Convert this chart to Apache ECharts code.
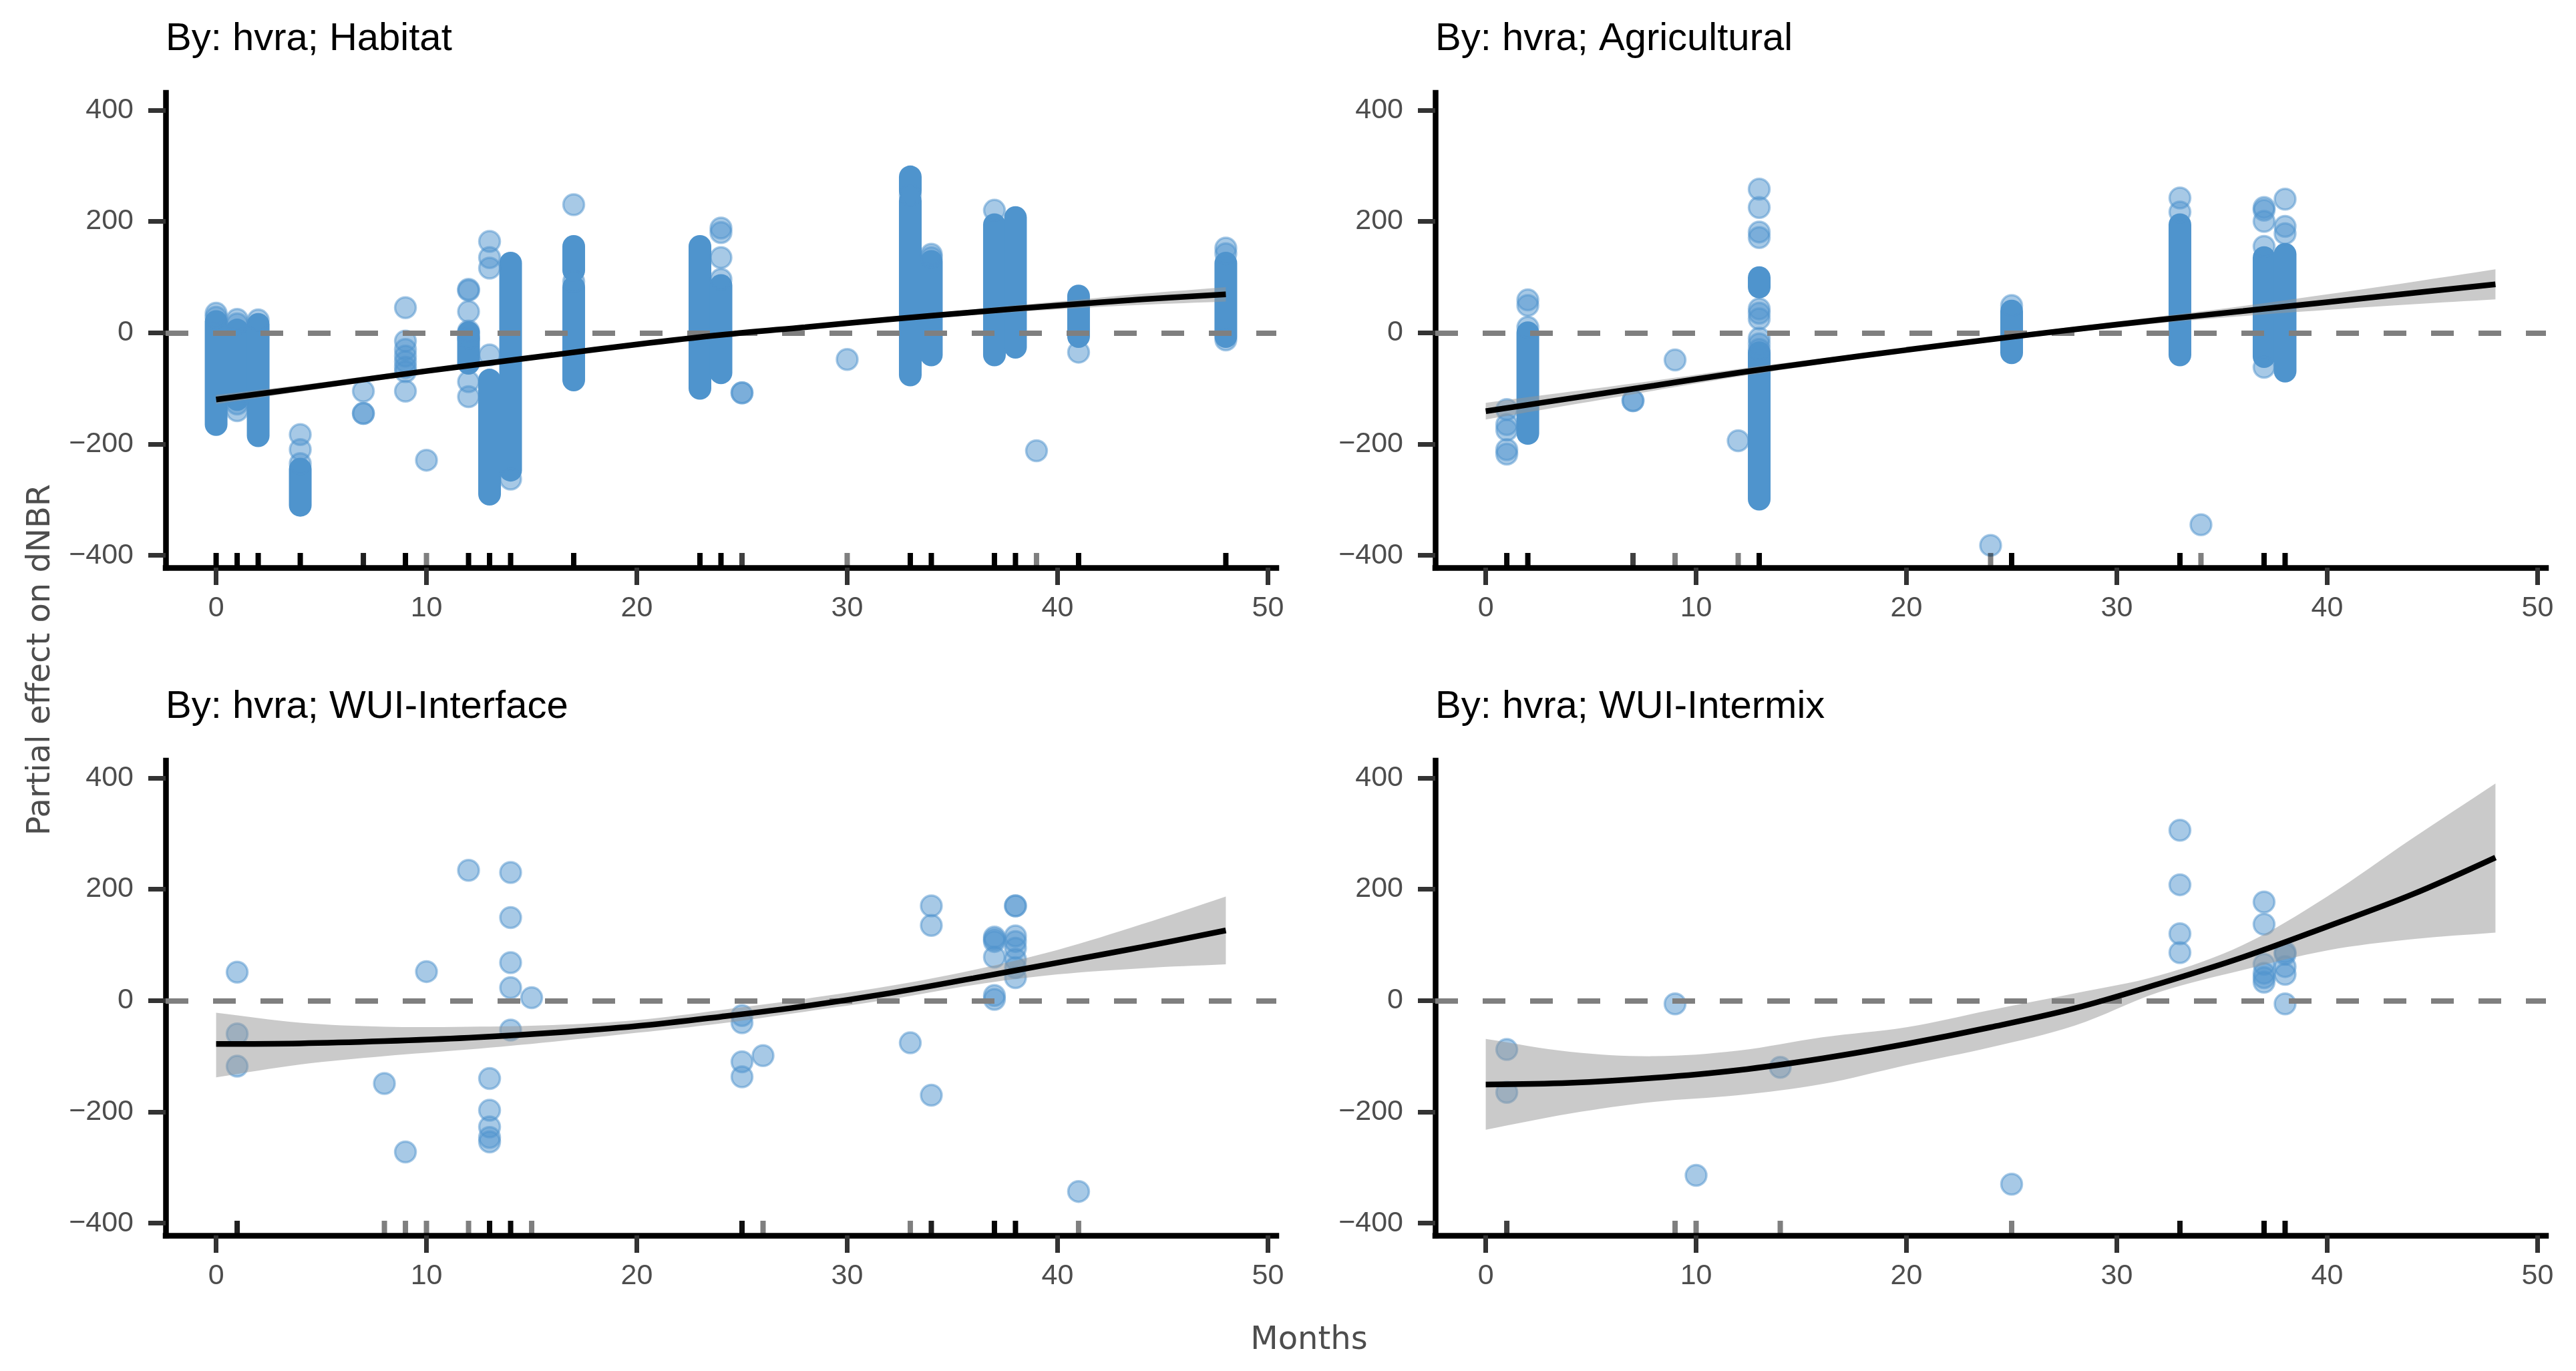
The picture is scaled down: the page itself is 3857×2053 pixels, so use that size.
<!DOCTYPE html>
<html>
<head>
<meta charset="utf-8">
<script src="https://cdn.jsdelivr.net/npm/echarts@6/dist/echarts.min.js"></script>
<style>
  html, body { margin: 0; padding: 0; background: #fff; }
  #chart { width: 3857px; height: 2053px; }
</style>
</head>
<body>
<div id="chart"></div>
<script>
// axis ticks
const xTicks = [0, 10, 20, 30, 40, 50];
const yTicks = [-400, -200, 0, 200, 400];
const fitMonths = [0, 4, 8, 12, 16, 20, 24, 28, 32, 36, 40, 44, 48];

const panelTitles = ['By: hvra; Habitat', 'By: hvra; Agricultural', 'By: hvra; WUI-Interface', 'By: hvra; WUI-Intermix'];

// Habitat: dense columns [month, low, high] and the single points around them
const habitatBands = [
  [0, -165, 20], [1, -120, 5], [2, -185, 15], [4, -310, -245], [12, -55, 0],
  [13, -290, -85], [14, -247, 125], [17, -85, 82], [17, 112, 155], [23, -100, 155],
  [24, -72, 85], [33, -76, 237], [33, 255, 280], [34, -40, 128], [37, -40, 194],
  [38, -26, 207], [41, -7, 66], [48, -7, 125]
];
const habitatPoints = [
  [0, 35], [0, 28], [1, 24], [1, 16], [1, -128], [1, -140], [2, 23],
  [4, -183], [4, -210], [4, -235], [7, -105], [7, -145], [7, -145],
  [9, 45], [9, -15], [9, -30], [9, -42], [9, -52], [9, -62], [9, -70], [9, -105],
  [10, -229], [12, 78], [12, 76], [12, 38], [12, 3], [12, -10], [12, -88], [12, -115],
  [13, 164], [13, 135], [13, 116], [13, -40], [14, -263], [17, 230], [17, 92],
  [24, 188], [24, 180], [24, 135], [24, 96], [25, -108], [25, -108], [30, -48],
  [33, 247], [34, 141], [34, 135], [37, 220], [39, -212], [41, -35],
  [48, 152], [48, 142], [48, -13]
];
const habitatFit = [-120, -100, -79, -59, -40, -21, -4, 10, 24, 37, 49, 60, 69];
const habitatLo = [-128, -106, -84, -63, -43, -24, -7, 7, 20, 32, 42, 50, 56];
const habitatHi = [-112, -94, -74, -55, -37, -18, -1, 13, 28, 42, 56, 70, 82];

// Agricultural
const agriBands = [
  [2, -181, 0], [13, 82, 99], [13, -299, -36], [25, -36, 39], [33, -40, 194],
  [37, -43, 135], [38, -69, 141]
];
const agriPoints = [
  [1, -138], [1, -165], [1, -175], [1, -210], [1, -218], [2, 59], [2, 49], [2, 10],
  [7, -122], [7, -122], [9, -49], [12, -194],
  [13, 258], [13, 225], [13, 181], [13, 171], [13, 43], [13, 35], [13, 25], [13, -10], [13, -20], [13, -30],
  [24, -382], [25, 49], [33, 242], [33, 217], [34, -345],
  [37, 225], [37, 220], [37, 200], [37, 155], [37, -62], [38, 240], [38, 191], [38, 178]
];
const agriFit = [-141, -118, -95, -72, -51, -31, -12, 6, 23, 39, 55, 71, 87];
const agriLo = [-156, -130, -104, -79, -56, -35, -16, 1, 17, 30, 41, 51, 60];
const agriHi = [-126, -106, -86, -65, -46, -27, -8, 11, 29, 48, 69, 91, 114];

// WUI-Interface
const interfacePoints = [
  [1, 51], [1, -60], [1, -118], [8, -149], [9, -272], [10, 52], [12, 234],
  [13, -140], [13, -197], [13, -227], [13, -246], [13, -254],
  [14, 230], [14, 149], [14, 68], [14, 23], [14, -53], [15, 5],
  [25, -27], [25, -40], [25, -110], [25, -137], [26, -99], [33, -76],
  [34, 170], [34, 135], [34, -170],
  [37, 114], [37, 110], [37, 106], [37, 78], [37, 9], [37, 2],
  [38, 170], [38, 170], [38, 116], [38, 106], [38, 94], [38, 74], [38, 59], [38, 41],
  [41, -343]
];
const interfaceFit = [-78, -77, -73, -67, -58, -46, -29, -10, 13, 40, 68, 96, 126];
const interfaceLo = [-138, -115, -100, -88, -74, -58, -41, -20, 2, 28, 47, 58, 65];
const interfaceHi = [-22, -40, -47, -47, -44, -35, -17, 3, 26, 55, 91, 137, 187];

// WUI-Intermix
const intermixPoints = [
  [1, -88], [1, -165], [9, -6], [10, -314], [14, -120], [25, -330],
  [33, 306], [33, 208], [33, 120], [33, 86],
  [37, 177], [37, 137], [37, 65], [37, 49], [37, 41], [37, 33],
  [38, 87], [38, 83], [38, 61], [38, 47], [38, -6]
];
const intermixFit = [-151, -148, -139, -125, -104, -78, -48, -14, 30, 78, 133, 190, 257];
const intermixLo = [-232, -203, -182, -170, -150, -116, -84, -45, 15, 55, 90, 110, 122];
const intermixHi = [-69, -92, -100, -90, -66, -48, -17, 13, 45, 100, 187, 290, 390];

const panels = [
  { points: habitatPoints, bands: habitatBands, fit: habitatFit, lo: habitatLo, hi: habitatHi },
  { points: agriPoints, bands: agriBands, fit: agriFit, lo: agriLo, hi: agriHi },
  { points: interfacePoints, bands: [], fit: interfaceFit, lo: interfaceLo, hi: interfaceHi },
  { points: intermixPoints, bands: [], fit: intermixFit, lo: intermixLo, hi: intermixHi }
];

// page layout
const gridPos = [[248, 139], [2149, 139], [248, 1139], [2149, 1139]];
const gridW = 1663, gridH = 711;
const xMin = -2.4, xMax = 50.4, yMin = -422, yMax = 431;
const pointColor = '#4F94CD';
const tickFont = 'Liberation Sans';

// rug shade: alpha 0.5 per observation at that month
function rugOf(points, bands) {
  const counts = {};
  points.forEach(p => { counts[p[0]] = (counts[p[0]] || 0) + 1; });
  bands.forEach(b => { counts[b[0]] = (counts[b[0]] || 0) + 20; });
  return Object.keys(counts).map(k => [Number(k), 1 - Math.pow(0.5, counts[k])]);
}

const minus = v => (v < 0 ? '\u2212' + Math.abs(v) : String(v));

const grid = [], xAxis = [], yAxis = [], series = [], title = [];

panels.forEach((p, i) => {
  const [left, top] = gridPos[i];
  grid.push({ left: left, top: top, width: gridW, height: gridH, outerBoundsMode: 'none' });

  title.push({
    text: panelTitles[i], left: left, top: top - 109, padding: 0,
    textStyle: { fontFamily: tickFont, fontSize: 58, fontWeight: 'normal', color: '#000' }
  });

  xAxis.push({
    type: 'value', gridIndex: i, min: xMin, max: xMax,
    splitLine: { show: false },
    axisLine: { show: true, onZero: false, lineStyle: { color: '#000', width: 8.5, cap: 'square' } },
    axisTick: { show: true, customValues: xTicks, length: 26, lineStyle: { color: '#333', width: 7 } },
    axisLabel: { customValues: xTicks, fontFamily: tickFont, fontSize: 43, color: '#4d4d4d', margin: 40 }
  });
  yAxis.push({
    type: 'value', gridIndex: i, min: yMin, max: yMax,
    splitLine: { show: false },
    axisLine: { show: true, onZero: false, lineStyle: { color: '#000', width: 8.5, cap: 'square' } },
    axisTick: { show: true, customValues: yTicks, length: 26, lineStyle: { color: '#333', width: 7 } },
    axisLabel: { customValues: yTicks, fontFamily: tickFont, fontSize: 43, color: '#4d4d4d', margin: 48, formatter: minus }
  });

  // solid columns where hundreds of points overlap
  series.push({
    type: 'custom', xAxisIndex: i, yAxisIndex: i, z: 2, silent: true,
    data: p.bands,
    encode: { x: 0, y: [1, 2] },
    renderItem: (params, api) => {
      const hiPt = api.coord([api.value(0), api.value(2)]);
      const loPt = api.coord([api.value(0), api.value(1)]);
      const r = 17;
      return {
        type: 'rect',
        shape: { x: hiPt[0] - r, y: hiPt[1] - r, width: 2 * r, height: loPt[1] - hiPt[1] + 2 * r, r: r },
        style: { fill: pointColor }
      };
    }
  });

  // single points, with the dashed zero line
  series.push({
    type: 'scatter', xAxisIndex: i, yAxisIndex: i, z: 3, silent: true,
    data: p.points,
    symbolSize: 31,
    itemStyle: { color: pointColor, opacity: 0.5, borderColor: pointColor, borderWidth: 3.5 },
    markLine: {
      silent: true, symbol: ['none', 'none'], z: 5,
      label: { show: false },
      lineStyle: { color: '#7f7f7f', width: 8, type: [34, 37], cap: 'butt' },
      emphasis: { disabled: true },
      data: [{ yAxis: 0 }]
    }
  });

  // confidence ribbon: one polygon through the upper edge, back along the lower edge
  series.push({
    type: 'custom', xAxisIndex: i, yAxisIndex: i, z: 4, silent: true,
    data: fitMonths.map((m, j) => [m, p.lo[j], p.hi[j]]),
    encode: { x: 0, y: [1, 2] },
    renderItem: (params, api) => {
      if (params.dataIndex !== 0) return null;
      const upper = fitMonths.map((m, j) => api.coord([m, p.hi[j]]));
      const lower = fitMonths.map((m, j) => api.coord([m, p.lo[j]])).reverse();
      const last = upper.length - 1;
      // repeat the corner vertices so the ends stay square
      const pts = [upper[0]].concat(upper, [upper[last], lower[0]], lower, [lower[last]]);
      return {
        type: 'polygon',
        shape: { points: pts, smooth: 0.35 },
        style: { fill: 'rgba(150,150,150,0.5)' }
      };
    }
  });

  // fitted smooth
  series.push({
    type: 'line', xAxisIndex: i, yAxisIndex: i, z: 6, silent: true,
    data: fitMonths.map((m, j) => [m, p.fit[j]]),
    smooth: 0.35, symbol: 'none',
    lineStyle: { color: '#000', width: 8.5 }
  });

  // rug along the bottom
  series.push({
    type: 'custom', xAxisIndex: i, yAxisIndex: i, z: 7, silent: true,
    data: rugOf(p.points, p.bands),
    renderItem: (params, api) => {
      const base = api.coord([api.value(0), yMin]);
      return {
        type: 'line',
        shape: { x1: base[0], y1: base[1], x2: base[0], y2: base[1] - 22 },
        style: { stroke: '#000', lineWidth: 8, opacity: api.value(1) }
      };
    }
  });
});

const chart = echarts.init(document.getElementById('chart'), null, { renderer: 'canvas' });
chart.setOption({
  backgroundColor: '#fff',
  animation: false,
  title: title,
  grid: grid,
  xAxis: xAxis,
  yAxis: yAxis,
  series: series,
  graphic: [
    {
      type: 'text', x: 62, y: 988, rotation: Math.PI / 2,
      style: { text: 'Partial effect on dNBR', font: '48px "DejaVu Sans"', fill: '#4d4d4d', textAlign: 'center', textVerticalAlign: 'middle' }
    },
    {
      type: 'text', x: 1960, y: 2008,
      style: { text: 'Months', font: '48px "DejaVu Sans"', fill: '#4d4d4d', textAlign: 'center', textVerticalAlign: 'middle' }
    }
  ]
});
</script>
</body>
</html>
